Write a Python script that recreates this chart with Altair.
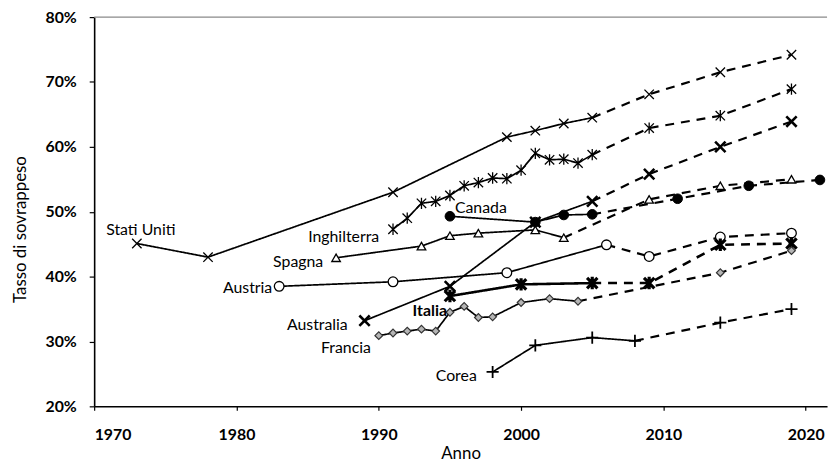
import altair as alt
import pandas as pd

# ---------------- data ----------------
countries = ["Stati Uniti", "Inghilterra", "Canada", "Spagna", "Austria",
             "Australia", "Italia", "Francia", "Corea"]

us_years = [1973, 1978, 1991, 1999, 2001, 2003, 2005]
us_vals = [45.1, 43.0, 53.0, 61.5, 62.5, 63.6, 64.5]
us_proj_years = [2009, 2014, 2019]
us_proj_vals = [68.1, 71.5, 74.2]

uk_years = [1991, 1992, 1993, 1994, 1995, 1996, 1997, 1998, 1999, 2000,
            2001, 2002, 2003, 2004, 2005]
uk_vals = [47.3, 49.0, 51.3, 51.6, 52.5, 54.0, 54.5, 55.2, 55.1, 56.4,
           59.0, 58.0, 58.1, 57.5, 58.8]
uk_proj_years = [2009, 2014, 2019]
uk_proj_vals = [62.9, 64.8, 68.9]

ca_years = [1995, 2001, 2003, 2005]
ca_vals = [49.3, 48.4, 49.5, 49.6]
ca_proj_years = [2011, 2016, 2021]
ca_proj_vals = [52.0, 54.0, 54.9]

es_years = [1987, 1993, 1995, 1997, 2001, 2003]
es_vals = [42.9, 44.7, 46.3, 46.7, 47.2, 46.0]
es_proj_years = [2009, 2014, 2019]
es_proj_vals = [51.9, 54.0, 55.0]

at_years = [1983, 1991, 1999, 2006]
at_vals = [38.5, 39.2, 40.6, 44.9]
at_proj_years = [2009, 2014, 2019]
at_proj_vals = [43.1, 46.1, 46.7]

au_years = [1989, 1995, 2001, 2005]
au_vals = [33.2, 38.5, 48.4, 51.6]
au_proj_years = [2009, 2014, 2019]
au_proj_vals = [55.8, 60.0, 63.9]

it_years = [1995, 2000, 2005]
it_vals = [37.0, 38.8, 39.0]
it_proj_years = [2009, 2014, 2019]
it_proj_vals = [39.0, 44.9, 45.1]

fr_years = [1990, 1991, 1992, 1993, 1994, 1995, 1996, 1997, 1998, 2000, 2002, 2004]
fr_vals = [30.9, 31.3, 31.6, 31.9, 31.6, 34.5, 35.4, 33.7, 33.8, 36.0, 36.6, 36.2]
fr_proj_years = [2014, 2019]
fr_proj_vals = [40.6, 44.0]

kr_years = [1998, 2001, 2005, 2008]
kr_vals = [25.3, 29.4, 30.6, 30.1]
kr_proj_years = [2014, 2019]
kr_proj_vals = [32.9, 35.0]

series = {
    "Stati Uniti": (us_years, us_vals, us_proj_years, us_proj_vals),
    "Inghilterra": (uk_years, uk_vals, uk_proj_years, uk_proj_vals),
    "Canada": (ca_years, ca_vals, ca_proj_years, ca_proj_vals),
    "Spagna": (es_years, es_vals, es_proj_years, es_proj_vals),
    "Austria": (at_years, at_vals, at_proj_years, at_proj_vals),
    "Australia": (au_years, au_vals, au_proj_years, au_proj_vals),
    "Italia": (it_years, it_vals, it_proj_years, it_proj_vals),
    "Francia": (fr_years, fr_vals, fr_proj_years, fr_proj_vals),
    "Corea": (kr_years, kr_vals, kr_proj_years, kr_proj_vals),
}

# ---------------- build tables ----------------
line_rows, point_rows = [], []
for c, (hy, hv, py, pv) in series.items():
    for y, v in zip(hy, hv):
        line_rows.append({"country": c, "year": y, "value": v, "seg": "storico", "grp": c + "_h"})
        point_rows.append({"country": c, "year": y, "value": v})
    line_rows.append({"country": c, "year": hy[-1], "value": hv[-1], "seg": "proiezione", "grp": c + "_p"})
    for y, v in zip(py, pv):
        line_rows.append({"country": c, "year": y, "value": v, "seg": "proiezione", "grp": c + "_p"})
        point_rows.append({"country": c, "year": y, "value": v})

lines_df = pd.DataFrame(line_rows)
lines_df["sw"] = [2.6 if c == "Italia" else (2.2 if s == "proiezione" else 1.7)
                  for c, s in zip(lines_df["country"], lines_df["seg"])]
points_df = pd.DataFrame(point_rows)

X = alt.X("year:Q", scale=alt.Scale(domain=[1970, 2021.5], nice=False, zero=False),
          axis=alt.Axis(values=[1970, 1980, 1990, 2000, 2010, 2020], format="d",
                        title="Anno", grid=False, tickSize=4, labelPadding=16,
                        titlePadding=4, labelFontWeight="bold", labelFontSize=16,
                        titleFontSize=17, titleFontWeight="normal"))
Y = alt.Y("value:Q", scale=alt.Scale(domain=[20, 80], nice=False, zero=False),
          axis=alt.Axis(values=[20, 30, 40, 50, 60, 70, 80], labelExpr="datum.value + '%'",
                        title="Tasso di sovrappeso", grid=False, tickSize=5, labelPadding=13,
                        titlePadding=16, titleY=214, labelFontWeight="bold", labelFontSize=16,
                        titleFontSize=17, titleFontWeight="normal"))

top_rule = alt.Chart(pd.DataFrame({"v": [80]})).mark_rule(color="#8a8a8a", strokeWidth=1.3).encode(
    y=alt.Y("v:Q", scale=alt.Scale(domain=[20, 80], nice=False, zero=False)))

lines = alt.Chart(lines_df).mark_line(color="black").encode(
    x=X, y=Y, detail="grp:N",
    strokeDash=alt.StrokeDash("seg:N", scale=alt.Scale(domain=["storico", "proiezione"],
                                                        range=[[1, 0], [9, 7]]), legend=None),
    strokeWidth=alt.StrokeWidth("sw:Q", scale=None),
)

XPATH = "M-1,-1L1,1M-1,1L1,-1"
STAR = "M-1,-1L1,1M-1,1L1,-1M0,-1.2L0,1.2"
PLUS = "M-1,0L1,0M0,-1L0,1"

styles = {
    "Stati Uniti": dict(shape=XPATH, size=90, filled=False, stroke="black", strokeWidth=1.3),
    "Inghilterra": dict(shape=STAR, size=90, filled=False, stroke="black", strokeWidth=1.3),
    "Canada": dict(shape="circle", size=95, filled=True, fill="black", stroke="black", strokeWidth=1),
    "Spagna": dict(shape="triangle-up", size=75, filled=True, fill="white", stroke="black", strokeWidth=1.3),
    "Austria": dict(shape="circle", size=95, filled=True, fill="white", stroke="black", strokeWidth=1.3),
    "Australia": dict(shape=XPATH, size=110, filled=False, stroke="black", strokeWidth=2.6),
    "Italia": dict(shape=STAR, size=110, filled=False, stroke="black", strokeWidth=3.2),
    "Francia": dict(shape="diamond", size=60, filled=True, fill="#b5b5b5", stroke="#333333", strokeWidth=1.2),
    "Corea": dict(shape=PLUS, size=150, filled=False, stroke="black", strokeWidth=1.8),
}

point_layers = []
for c in countries:
    st = styles[c]
    point_layers.append(
        alt.Chart(points_df).transform_filter(alt.datum.country == c)
        .mark_point(opacity=1, **st).encode(x=X, y=Y)
    )

# labels anchored at the first point of each series
label_offsets = {
    "Stati Uniti": ("center", 4, -14, "normal"),
    "Canada": ("left", 5, -8, "normal"),
    "Inghilterra": ("right", -14, 8, "normal"),
    "Spagna": ("right", -13, 4, "normal"),
    "Austria": ("right", -7, 2, "normal"),
    "Australia": ("right", -17, 4, "normal"),
    "Francia": ("right", -8, 13, "normal"),
    "Italia": ("right", -3, 15, "bold"),
    "Corea": ("right", -16, 4, "normal"),
}
label_layers = []
for c in countries:
    hy, hv = series[c][0], series[c][1]
    al, dx, dy, fw = label_offsets[c]
    ldf = pd.DataFrame({"year": [hy[0]], "value": [hv[0]], "label": [c]})
    label_layers.append(
        alt.Chart(ldf).mark_text(align=al, baseline="middle", dx=dx, dy=dy, fontSize=16,
                                 fontWeight=fw, color="black", font="Lato")
        .encode(x=X, y=Y, text="label:N")
    )

chart = alt.layer(top_rule, lines, *point_layers, *label_layers).properties(
    width=740, height=393,
    autosize=alt.AutoSizeParams(type="none"),
    padding={"left": 87, "top": 7, "right": 5, "bottom": 54},
).configure(font="Lato").configure_axis(
    domainColor="black", domainWidth=1.6, tickColor="black", tickWidth=1.2,
    labelColor="black", titleColor="black", labelFont="Lato", titleFont="Lato",
).configure_view(stroke=None)

chart.save("out.html", embed_options={"renderer": "svg", "actions": False})
